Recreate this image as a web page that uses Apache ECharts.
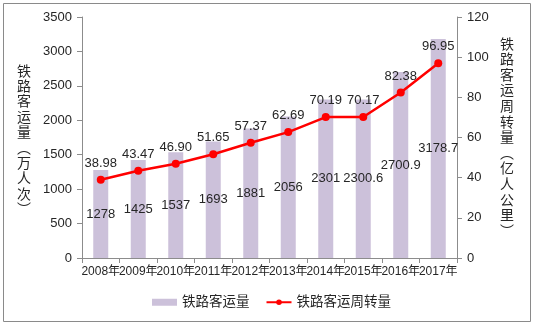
<!DOCTYPE html>
<html>
<head>
<meta charset="utf-8">
<script src="https://cdn.jsdelivr.net/npm/echarts@6/dist/echarts.min.js"></script>
<style>
  html, body { margin: 0; padding: 0; background: #fff; }
  #chart { width: 535px; height: 325px; }
</style>
</head>
<body>
<div id="chart"></div>
<script>
// Railway passenger statistics, 2008-2017
const years = ['2008年', '2009年', '2010年', '2011年', '2012年', '2013年', '2014年', '2015年', '2016年', '2017年'];
const passengerVolume = [1278, 1425, 1537, 1693, 1881, 2056, 2301, 2300.6, 2700.9, 3178.7];   // 万人次
const passengerTurnover = [38.98, 43.47, 46.90, 51.65, 57.37, 62.69, 70.19, 70.17, 82.38, 96.95]; // 亿人公里
const turnoverLabels = ['38.98', '43.47', '46.90', '51.65', '57.37', '62.69', '70.19', '70.17', '82.38', '96.95'];
const volumeName = '铁路客运量';
const turnoverName = '铁路客运周转量';
const leftAxisName = '铁路客运量︵万人次︶';
const rightAxisName = '铁路客运周转量︵亿人公里︶';

const FONT = '"Liberation Sans", "Noto Sans CJK SC", sans-serif';
const TEXT = '#262626';
const AXIS = '#8c8c8c';

// stack characters top-to-bottom for the vertical axis titles
const vertical = s => s.split('').join('\n');

const chart = echarts.init(document.getElementById('chart'), null, { renderer: 'canvas' });
chart.setOption({
  animation: false,
  backgroundColor: '#fff',
  textStyle: { fontFamily: FONT, color: TEXT },
  graphic: [{
    type: 'rect',
    shape: { x: 3.5, y: 3.5, width: 527, height: 318 },
    style: { fill: 'none', stroke: '#8a8a8a', lineWidth: 1 }
  }, {
    type: 'text',
    left: 17, top: 64,
    style: {
      text: vertical(leftAxisName),
      font: '14px ' + FONT, fill: TEXT,
      lineHeight: 15.4, align: 'center'
    }
  }, {
    type: 'text',
    left: 500, top: 37,
    style: {
      text: vertical(rightAxisName),
      font: '14px ' + FONT, fill: TEXT,
      lineHeight: 15.6, align: 'center'
    }
  }],
  grid: { left: 82, right: 78, top: 17, bottom: 67 },
  legend: {
    bottom: 11,
    left: 147,
    itemGap: 16,
    itemWidth: 25,
    itemHeight: 7,
    textStyle: { fontFamily: FONT, fontSize: 13.5, color: TEXT },
    data: [
      { name: volumeName, icon: 'rect' },
      { name: turnoverName }
    ]
  },
  xAxis: {
    type: 'category',
    data: years,
    boundaryGap: true,
    axisLine: { lineStyle: { color: AXIS } },
    axisTick: { show: true, length: 5, lineStyle: { color: AXIS } },
    axisLabel: { fontFamily: FONT, fontSize: 12, color: TEXT, margin: 8, interval: 0 }
  },
  yAxis: [{
    type: 'value',
    min: 0, max: 3500, interval: 500,
    axisLine: { show: true, lineStyle: { color: AXIS } },
    axisTick: { show: true, length: 5, lineStyle: { color: AXIS } },
    splitLine: { show: false },
    axisLabel: { fontFamily: FONT, fontSize: 13, color: TEXT, margin: 10, formatter: v => String(v) }
  }, {
    type: 'value',
    min: 0, max: 120, interval: 20,
    axisLine: { show: true, lineStyle: { color: AXIS } },
    axisTick: { show: true, length: 5, lineStyle: { color: AXIS } },
    splitLine: { show: false },
    axisLabel: { fontFamily: FONT, fontSize: 13, color: TEXT, margin: 10, formatter: v => String(v) }
  }],
  series: [{
    name: volumeName,
    type: 'bar',
    yAxisIndex: 0,
    data: passengerVolume,
    barWidth: 15,
    itemStyle: { color: '#ccc1da' },
    label: {
      show: true,
      position: 'inside',
      fontFamily: FONT, fontSize: 13, color: TEXT
    }
  }, {
    name: turnoverName,
    type: 'line',
    yAxisIndex: 1,
    data: passengerTurnover,
    symbol: 'circle',
    symbolSize: 8,
    lineStyle: { color: '#ff0000', width: 2.5 },
    itemStyle: { color: '#ff0000' },
    label: {
      show: true,
      position: 'top',
      distance: 6,
      fontFamily: FONT, fontSize: 13, color: TEXT,
      formatter: p => turnoverLabels[p.dataIndex]
    }
  }]
});
</script>
</body>
</html>
